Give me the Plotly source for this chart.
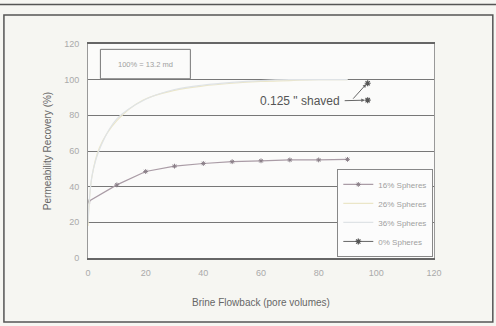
import plotly.graph_objects as go

# Data
x_16 = [0, 10, 20, 30, 40, 50, 60, 70, 80, 90]
y_16 = [31.5, 41, 48.5, 51.5, 53, 54, 54.5, 55, 55, 55.3]

x_26 = [0, 1.3, 4, 10, 19, 30, 40, 50, 60, 70, 80, 90]
y_26 = [18, 45, 62, 77, 88.5, 94, 96.5, 98, 99, 99.5, 100, 100]

x_36 = [0, 1.5, 4.5, 10, 20, 30, 40, 50, 60, 70, 80, 90]
y_36 = [20, 47, 63, 78, 89, 94.5, 97, 98.5, 99.5, 100, 100, 100]

x_0 = [97, 97]
y_0 = [98, 88.5]

x_ticks = [0, 20, 40, 60, 80, 100, 120]
y_ticks = [0, 20, 40, 60, 80, 100, 120]

FONT = "Liberation Sans, Arial"

fig = go.Figure()
fig.add_trace(go.Scatter(x=x_16, y=y_16, name="16% Spheres", mode="lines+markers",
                         line=dict(color="#aa9ca6", width=1.2),
                         marker=dict(symbol="asterisk", size=4, color="#8a7f88",
                                     line=dict(width=1, color="#8a7f88"))))
fig.add_trace(go.Scatter(x=x_26, y=y_26, name="26% Spheres", mode="lines",
                         line=dict(color="#ebe6c8", width=1.2, shape="spline")))
fig.add_trace(go.Scatter(x=x_36, y=y_36, name="36% Spheres", mode="lines",
                         line=dict(color="#dfe3e6", width=1.2, shape="spline")))
fig.add_trace(go.Scatter(x=[x_0[0], None, x_0[1]], y=[y_0[0], None, y_0[1]],
                         name="0% Spheres", mode="lines+markers",
                         line=dict(color="#666666", width=1),
                         marker=dict(symbol="asterisk", size=5, color="#555555",
                                     line=dict(width=1.2, color="#555555"))))

# annotations
fig.add_annotation(x=73.5, y=88, text="0.125 \" shaved", showarrow=False,
                   font=dict(family=FONT, size=12, color="#555555"))
fig.add_annotation(x=96, y=88.5, ax=88.5, ay=88.2, xref="x", yref="y", axref="x", ayref="y",
                   text="", showarrow=True, arrowhead=2, arrowsize=0.7, arrowwidth=1,
                   arrowcolor="#666666")
fig.add_annotation(x=96.5, y=97.5, ax=91.5, ay=88.5, xref="x", yref="y", axref="x", ayref="y",
                   text="", showarrow=True, arrowhead=2, arrowsize=0.7, arrowwidth=1,
                   arrowcolor="#666666")
fig.add_annotation(x=19.8, y=108.5, text="100% = 13.2 md", showarrow=False,
                   font=dict(family=FONT, size=7.5, color="#a0a0a0"))

shapes = []
shapes.append(dict(type="rect", xref="x", yref="y", x0=4.3, x1=35.5, y0=100.5, y1=117,
                   line=dict(color="#777777", width=1), fillcolor="rgba(0,0,0,0)"))
# outer frame
shapes.append(dict(type="rect", xref="paper", yref="paper", x0=-0.243, x1=1.17, y0=-0.299, y1=1.1355,
                   line=dict(color="#555555", width=1.5), fillcolor="rgba(0,0,0,0)", layer="below"))
shapes.append(dict(type="line", xref="paper", yref="paper", x0=-0.26, x1=1.19, y0=1.185, y1=1.185,
                   line=dict(color="#555555", width=1.5)))

fig.update_layout(
    width=496, height=326,
    margin=dict(l=88, r=62, t=44, b=68, autoexpand=False),
    paper_bgcolor="#f6f6f2",
    plot_bgcolor="#fbfbfa",
    shapes=shapes,
    showlegend=True,
    legend=dict(x=0.998, y=0.005, xanchor="right", yanchor="bottom",
                bgcolor="#fcfcfc", bordercolor="#888888", borderwidth=1,
                font=dict(family=FONT, size=8, color="#a0a0a0"),
                tracegroupgap=0, itemwidth=30),
    font=dict(family=FONT, color="#777777"),
)
fig.update_xaxes(range=[0, 120], tickvals=x_ticks, ticks="", showgrid=False,
                 showline=True, linecolor="#666666", linewidth=1.5, mirror=True,
                 zeroline=False, automargin=False,
                 tickfont=dict(family=FONT, size=9, color="#aaaaaa"),
                 ticklabelstandoff=5,
                 title=dict(text="Brine Flowback (pore volumes)", standoff=22,
                            font=dict(family=FONT, size=10, color="#666666")))
fig.update_yaxes(range=[0, 120], tickvals=y_ticks, ticks="", showgrid=True,
                 gridcolor="#777777", gridwidth=1,
                 showline=True, linecolor="#999999", linewidth=1, mirror=True,
                 zeroline=False, automargin=False,
                 tickfont=dict(family=FONT, size=9, color="#aaaaaa"),
                 ticklabelstandoff=6,
                 title=dict(text="Permeability Recovery (%)", standoff=10,
                            font=dict(family=FONT, size=10, color="#666666")))

fig.write_html("out.html", config={"displayModeBar": False},
               post_script="document.body.style.margin='0';document.body.style.overflow='hidden';")
